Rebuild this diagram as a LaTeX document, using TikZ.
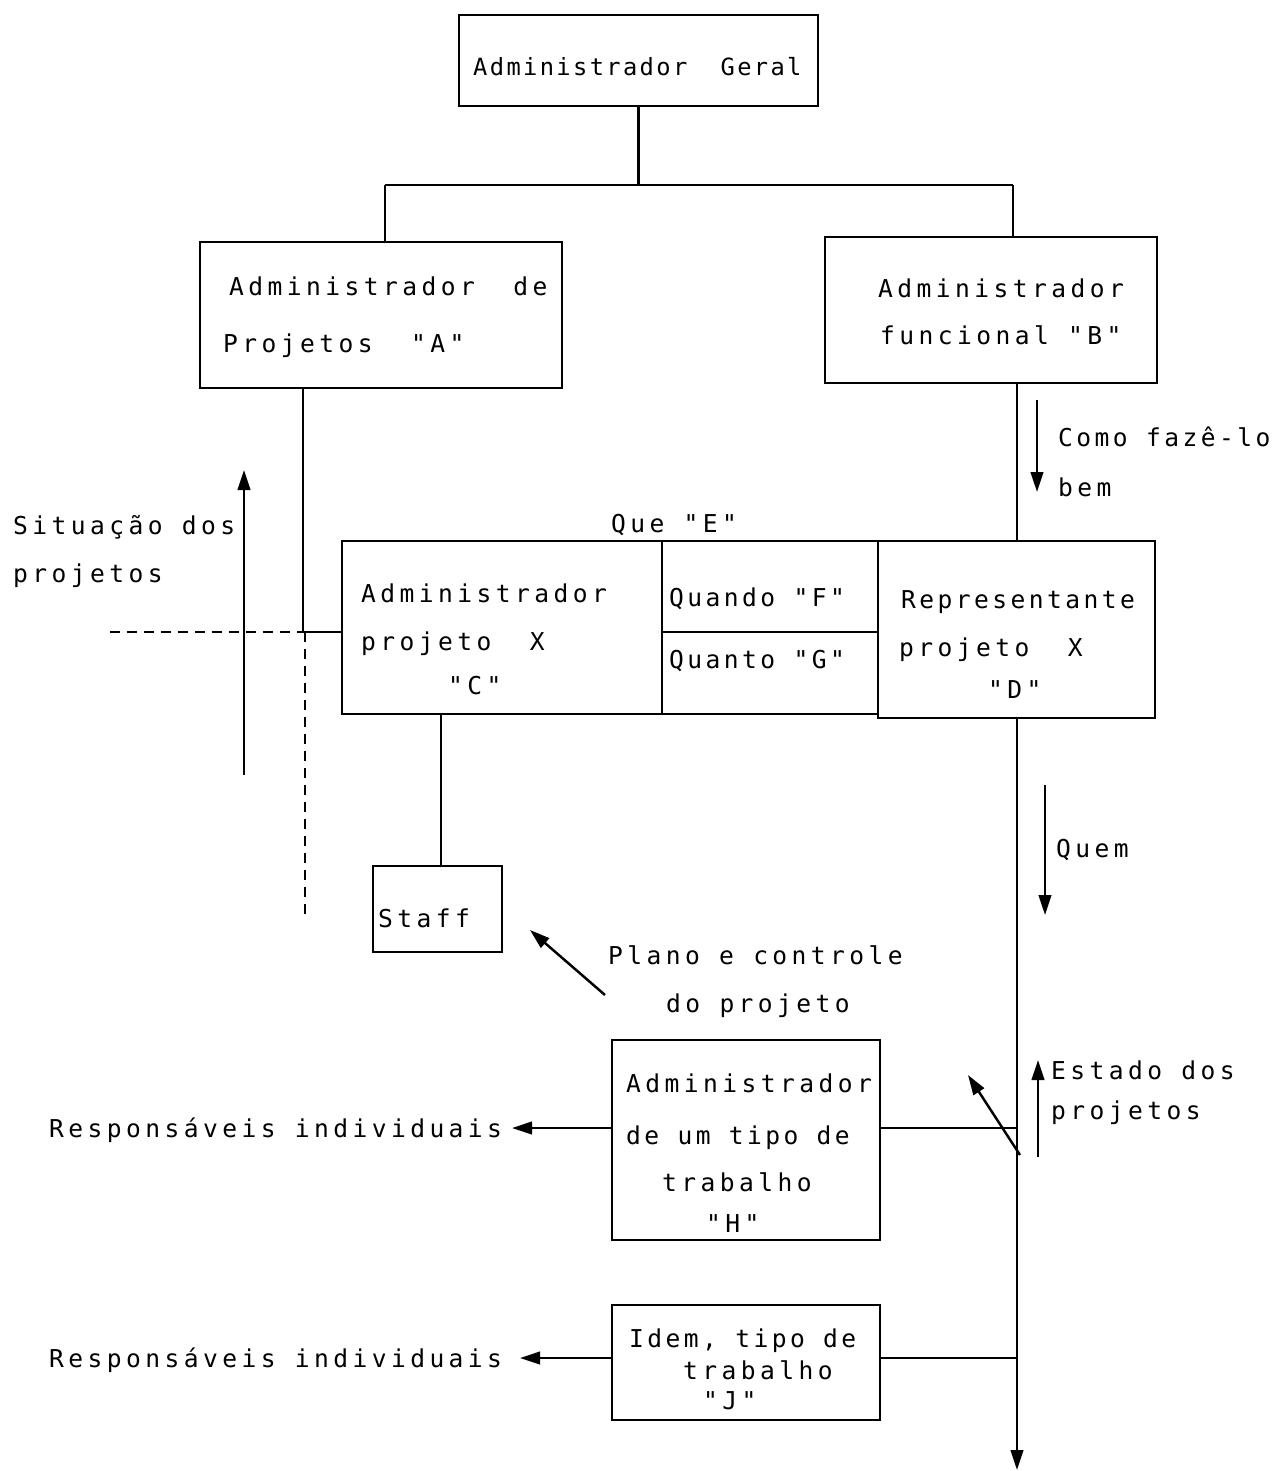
\documentclass[tikz,border=0pt]{standalone}
\usepackage{fontspec}
\usetikzlibrary{arrows.meta,fit}
\newfontfamily\typ{DejaVu Sans Mono}[LetterSpace=18]
\newfontfamily\typtight{DejaVu Sans Mono}[LetterSpace=10]
\newfontfamily\typmid{DejaVu Sans Mono}[LetterSpace=14]
\begin{document}
\begin{tikzpicture}[x=0.02cm,y=-0.02cm,
  line width=1.4pt,
  box/.style={draw,rectangle,inner sep=0pt},
  txt/.style={anchor=base west,inner sep=0pt,font=\typ\fontsize{14}{16}\selectfont},
  txttop/.style={txt,font=\typtight\fontsize{13.5}{16}\selectfont},
  txtmid/.style={txt,font=\typmid\fontsize{14}{16}\selectfont},
  arr/.style={-{Triangle[length=0.4cm,width=0.25cm]}},
  dsh/.style={dash pattern=on 0.2cm off 0.14cm}]
\useasboundingbox (0,0) rectangle (1287,1471);

% boxes
\node[box,fit={(459,15) (818,106)}] (G) {};
\node[box,fit={(200,242) (562,388)}] (A) {};
\node[box,fit={(825,237) (1157,383)}] (B) {};
\node[box,fit={(342,541) (662,714)}] (C) {};
\node[box,fit={(662,541) (878,632)}] (F) {};
\node[box,fit={(662,632) (878,714)}] (Gq) {};
\node[box,fit={(878,541) (1155,718)}] (D) {};
\node[box,fit={(373,866) (502,952)}] (S) {};
\node[box,fit={(612,1040) (880,1240)}] (H) {};
\node[box,fit={(612,1305) (880,1420)}] (J) {};

% box texts
\node[txttop] (tG) at (472,75) {Administrador~~Geral};
\node[txt] (tA1) at (228,295) {Administrador~~de};
\node[txt] (tA2) at (222,352) {Projetos~~"A"};
\node[txt] (tB1) at (877,297) {Administrador};
\node[txt] (tB2) at (879,344) {funcional "B"};
\node[txt] (tC1) at (360,602) {Administrador};
\node[txt] (tC2) at (360,650) {projeto~~X};
\node[txt] (tC3) at (447,694) {"C"};
\node[txtmid] (tF) at (668,606) {Quando "F"};
\node[txtmid] (tGq) at (668,668) {Quanto "G"};
\node[txtmid] (tD1) at (900,608) {Representante};
\node[txt] (tD2) at (898,656) {projeto~~X};
\node[txt] (tD3) at (987,698) {"D"};
\node[txt] (tS) at (377,927) {Staff};
\node[txt] (tH1) at (625,1092) {Administrador};
\node[txtmid] (tH2) at (625,1144) {de um tipo de};
\node[txt] (tH3) at (661,1191) {trabalho};
\node[txt] (tH4) at (705,1232) {"H"};
\node[txtmid] (tJ1) at (628,1347) {Idem, tipo de};
\node[txt] (tJ2) at (682,1379) {trabalho};
\node[txt] (tJ3) at (702,1409) {"J"};

% free labels
\node[txtmid] (como1) at (1057,446) {Como fazê-lo};
\node[txt] (como2) at (1057,496) {bem};
\node[txt] (que) at (610,532) {Que "E"};
\node[txt] (sit1) at (12,534) {Situação dos};
\node[txt] (sit2) at (12,582) {projetos};
\node[txt] (pl1) at (607,964) {Plano e controle};
\node[txt] (pl2) at (665,1012) {do projeto};
\node[txt] (quem) at (1055,857) {Quem};
\node[txt] (est1) at (1050,1079) {Estado dos};
\node[txt] (est2) at (1050,1119) {projetos};
\node[txt] (resp1) at (48,1137) {Responsáveis individuais};
\node[txt] (resp2) at (48,1367) {Responsáveis individuais};

% hierarchy lines
\coordinate (busL) at (385,185);
\coordinate (busR) at (1013,185);
\draw (G.south) -- (G.south |- busL);
\draw (busL) -- (busR);
\draw (busL) -- (busL |- A.north);
\draw (busR) -- (busR |- B.north);

\coordinate (aC) at (303,632);
\draw (aC |- A.south) -- (aC) -- (C.west |- aC);
\coordinate (bD) at (1017,541);
\draw (bD |- B.south) -- (bD);
\coordinate (cS) at (441,714);
\draw (cS) -- (cS |- S.north);

% dashed cross
\coordinate (dL) at (110,632);
\coordinate (dB) at (305,915);
\draw[dsh] (dL) -- (aC);
\draw[dsh] (aC -| dB) -- (dB);

% main vertical from D
\coordinate (mTop) at (1017,718);
\coordinate (mBot) at (1017,1470);
\draw[arr] (mTop) -- (mBot);
\coordinate (rH) at (512,1128);
\coordinate (rJ) at (520,1358);
\draw (H.east |- rH) -- (mTop |- rH);
\draw (J.east |- rJ) -- (mTop |- rJ);
\draw[arr] (H.west |- rH) -- (rH);
\draw[arr] (J.west |- rJ) -- (rJ);

% flow arrows
\coordinate (como0) at (1037,400);
\coordinate (comoT) at (1037,492);
\draw[arr] (como0) -- (comoT);
\coordinate (sit0) at (244,775);
\coordinate (sitT) at (244,470);
\draw[arr] (sit0) -- (sitT);
\coordinate (quem0) at (1045,785);
\coordinate (quemT) at (1045,915);
\draw[arr] (quem0) -- (quemT);
\coordinate (est0) at (1038,1157);
\coordinate (estT) at (1038,1060);
\draw[arr] (est0) -- (estT);
\coordinate (dg0) at (1020,1155);
\coordinate (dgT) at (968,1075);
\draw[arr] (dg0) -- (dgT);
\coordinate (pl0) at (605,995);
\coordinate (plT) at (530,930);
\draw[arr] (pl0) -- (plT);
\end{tikzpicture}
\end{document}
